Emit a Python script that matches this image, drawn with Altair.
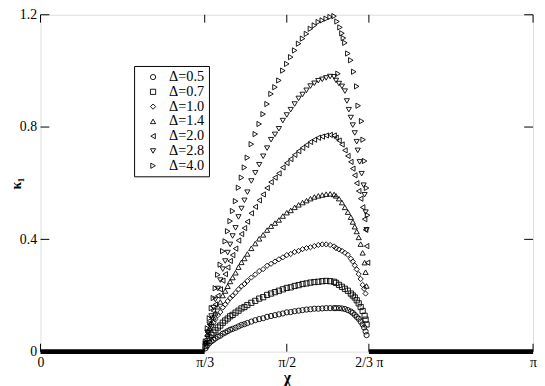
import altair as alt
import pandas as pd

LABELS = ["Δ=0.5", "Δ=0.7", "Δ=1.0", "Δ=1.4", "Δ=2.0", "Δ=2.8", "Δ=4.0"]
SHAPES = ["circle", "square", "diamond", "triangle-up", "triangle-left",
          "triangle-down", "triangle-right"]

# chi / pi grid of the rising part (shared by all curves)
X_RISE = [0.335, 0.339, 0.343, 0.347, 0.351, 0.355, 0.36, 0.365, 0.37, 0.375,
          0.38, 0.385, 0.39, 0.396, 0.402, 0.408, 0.414, 0.42, 0.428, 0.436,
          0.444, 0.452, 0.46, 0.468, 0.476, 0.484, 0.492, 0.50, 0.508, 0.516,
          0.524, 0.532, 0.54, 0.548, 0.556, 0.564, 0.572, 0.58, 0.588, 0.596]

K05_RISE = [.012, .023, .031, .037, .042, .047, .053, .057, .064, .068,
            .073, .078, .081, .085, .090, .095, .098, .102, .107, .112,
            .116, .119, .124, .127, .130, .133, .136, .140, .141, .144,
            .146, .148, .150, .151, .153, .153, .154, .155, .155, .155]
K07_RISE = [.020, .038, .050, .060, .068, .076, .086, .093, .103, .111,
            .118, .126, .131, .139, .146, .154, .159, .166, .174, .181,
            .189, .194, .202, .207, .212, .217, .222, .227, .229, .234,
            .237, .241, .243, .246, .248, .249, .251, .252, .251, .249]
K10_RISE = [.031, .057, .076, .092, .103, .115, .130, .141, .157, .168,
            .180, .191, .199, .210, .222, .233, .241, .252, .264, .275,
            .287, .294, .306, .313, .321, .329, .336, .344, .348, .355,
            .359, .365, .369, .372, .376, .380, .382, .382, .380, .375]
K14_RISE = [.031, .062, .084, .104, .121, .138, .160, .177, .200, .216,
            .233, .250, .264, .281, .301, .318, .332, .348, .368, .385,
            .402, .416, .433, .447, .458, .469, .483, .495, .503, .514,
            .523, .531, .538, .545, .551, .555, .558, .561, .562, .560]
K20_RISE = [.033, .069, .097, .122, .145, .168, .199, .222, .253, .276,
            .300, .323, .344, .367, .396, .419, .440, .463, .493, .516,
            .539, .560, .583, .604, .620, .635, .656, .672, .686, .701,
            .714, .726, .736, .747, .755, .762, .766, .770, .772, .770]
K28_RISE = [.029, .069, .098, .127, .157, .186, .225, .255, .294, .323,
            .353, .382, .412, .441, .480, .510, .539, .568, .608, .637,
            .666, .696, .725, .755, .774, .794, .823, .843, .862, .882,
            .902, .916, .931, .946, .956, .965, .970, .975, .980, .979]
K40_RISE = [.036, .083, .119, .155, .191, .226, .274, .310, .358, .393,
            .429, .465, .501, .536, .584, .620, .656, .691, .739, .775,
            .811, .846, .882, .918, .942, .966, 1.001, 1.025, 1.049, 1.073,
            1.097, 1.115, 1.132, 1.150, 1.162, 1.174, 1.180, 1.186, 1.192, 1.195]

# falling parts (chi / pi, kappa)
X05_FALL = [.600, .606, .612, .618, .624, .630, .634, .638, .642, .646, .650, .654, .657, .660, .662]
K05_FALL = [.155, .155, .154, .152, .148, .143, .138, .131, .124, .117, .107, .097, .086, .072, .059]
X07_FALL = [.600, .606, .612, .618, .624, .630, .634, .638, .642, .646, .650, .654, .658, .660, .662]
K07_FALL = [.245, .238, .231, .224, .217, .207, .200, .193, .183, .172, .159, .145, .128, .114, .097]
X10_FALL = [.600, .606, .612, .618, .624, .630, .634, .638, .642, .646, .650, .654, .657, .660]
K10_FALL = [.369, .364, .359, .352, .345, .331, .321, .307, .293, .276, .259, .238, .224, .207]
X14_FALL = [.600, .606, .612, .618, .624, .630, .634, .638, .642, .646, .650, .654, .658, .660, .662]
K14_FALL = [.555, .545, .531, .514, .497, .479, .462, .445, .428, .407, .383, .352, .317, .283, .234]
X20_FALL = [.600, .606, .612, .618, .624, .630, .634, .638, .642, .646, .650, .654, .658, .660, .662, .664]
K20_FALL = [.762, .752, .738, .717, .697, .676, .652, .628, .600, .572, .545, .514, .472, .434, .376, .317]
X28_FALL = [.600, .606, .612, .618, .622, .626, .630, .634, .638, .642, .644, .648, .652, .656, .658, .660, .662]
K28_FALL = [.966, .955, .945, .928, .893, .862, .834, .807, .779, .748, .717, .676, .634, .593, .559, .497, .434]
X40_FALL = [.602, .608, .612, .615, .618, .624, .630, .636, .642, .645, .652, .655, .658, .662, .664, .604]
K40_FALL = [1.176, 1.155, 1.134, 1.117, 1.100, 1.062, 1.038, .997, .945, .876, .821, .755, .679, .583, .486, .990]

# kappa = 0 outside pi/3 .. 2pi/3
ZERO_X = [0.0, 0.3333, 0.6667, 1.0]
ZERO_K = [0.0, 0.0, 0.0, 0.0]
ZERO_SEG = ["left", "left", "right", "right"]

X_TICKS = [0.0, 1 / 3, 0.5, 2 / 3, 1.0]
Y_TICKS = [0.0, 0.4, 0.8, 1.2]

RISES = [K05_RISE, K07_RISE, K10_RISE, K14_RISE, K20_RISE, K28_RISE, K40_RISE]
XFALLS = [X05_FALL, X07_FALL, X10_FALL, X14_FALL, X20_FALL, X28_FALL, X40_FALL]
KFALLS = [K05_FALL, K07_FALL, K10_FALL, K14_FALL, K20_FALL, K28_FALL, K40_FALL]

rows = []
for lab, rise, xf, kf in zip(LABELS, RISES, XFALLS, KFALLS):
    for x, k in zip(X_RISE, rise):
        rows.append({"delta": lab, "x": x, "k": k})
    for x, k in zip(xf, kf):
        rows.append({"delta": lab, "x": x, "k": k})
df = pd.DataFrame(rows)
zero_df = pd.DataFrame({"x": ZERO_X, "k": ZERO_K, "seg": ZERO_SEG})
xt_df = pd.DataFrame({"x": X_TICKS})
yt_df = pd.DataFrame({"k": Y_TICKS})

W, H = 500, 342
FONT = "Liberation Serif"
xscale = alt.Scale(domain=[0, 1], nice=False, zero=False)
yscale = alt.Scale(domain=[0, 1.2], nice=False)

label_expr = ("datum.value < 0.1 ? '0' : datum.value < 0.4 ? 'π/3' : "
              "datum.value < 0.6 ? 'π/2' : datum.value < 0.9 ? '2/3 π' : 'π'")

XAXIS = alt.Axis(values=X_TICKS, labelExpr=label_expr, title="χ",
                 ticks=False, tickSize=0, domain=False, grid=False,
                 labelFlush=False, labelPadding=4, titlePadding=0,
                 labelFont=FONT, titleFont=FONT,
                 labelFontSize=14, titleFontSize=16)
YAXIS = alt.Axis(values=Y_TICKS,
                 labelExpr="datum.value == 0 ? '0' : format(datum.value, '.1f')",
                 title="κ₁", ticks=False, tickSize=0, domain=False,
                 grid=False, labelPadding=4, titleX=-17, titleY=H / 2,
                 titleBaseline="bottom",
                 labelFont=FONT, titleFont=FONT,
                 labelFontSize=14, titleFontSize=14)


def X():
    return alt.X("x:Q", scale=xscale, axis=XAXIS, title="χ")


def Y():
    return alt.Y("k:Q", scale=yscale, axis=YAXIS, title="κ₁")


points = alt.Chart(df).mark_point(filled=False, size=28, strokeWidth=0.9,
                                  color="black", opacity=1).encode(
    x=X(), y=Y(),
    shape=alt.Shape("delta:N", scale=alt.Scale(domain=LABELS, range=SHAPES),
                    legend=alt.Legend(title=None, orient="none", legendX=95,
                                      legendY=52, fillColor="white",
                                      strokeColor="black", padding=4,
                                      labelFont=FONT, labelFontSize=14.5,
                                      labelColor="black", rowPadding=0,
                                      symbolSize=28, symbolStrokeWidth=0.9,
                                      symbolStrokeColor="black",
                                      symbolOffset=8, labelOffset=9)),
)

zero = alt.Chart(zero_df).mark_line(color="black", strokeWidth=5).encode(
    x=X(), y=Y(), detail="seg:N",
)

xt_bottom = alt.Chart(xt_df).mark_rule(color="black", strokeWidth=1).encode(
    x=X(), y=alt.value(H), y2=alt.value(H - 8))
xt_top = alt.Chart(xt_df).mark_rule(color="black", strokeWidth=1).encode(
    x=X(), y=alt.value(0), y2=alt.value(8))
yt_left = alt.Chart(yt_df).mark_rule(color="black", strokeWidth=1).encode(
    y=Y(), x=alt.value(0), x2=alt.value(9))
yt_right = alt.Chart(yt_df).mark_rule(color="black", strokeWidth=1).encode(
    y=Y(), x=alt.value(W), x2=alt.value(W - 9))

chart = alt.layer(points, zero, xt_bottom, xt_top, yt_left, yt_right).properties(
    width=W, height=H,
    autosize=alt.AutoSizeParams(type="none"),
    padding={"left": 33, "top": 4, "right": 4, "bottom": 32},
).configure_view(stroke="black", strokeWidth=1).configure_axis(
    labelFont=FONT, titleFont=FONT, labelColor="black", titleColor="black",
    titleFontWeight="normal"
).configure(background="white")

chart.save("out.html", embed_options={"renderer": "svg", "actions": False})
